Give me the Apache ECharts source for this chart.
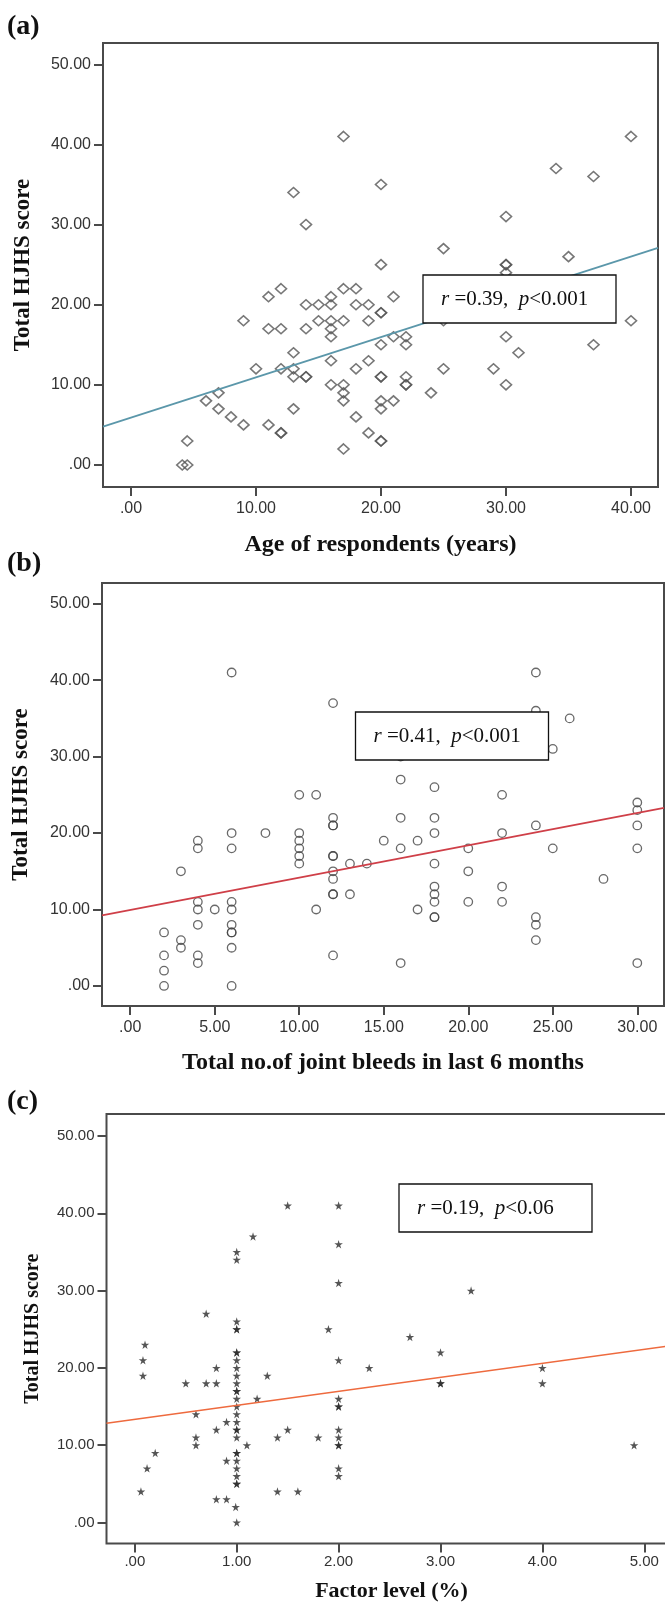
<!DOCTYPE html>
<html>
<head>
<meta charset="utf-8">
<script src="https://cdn.jsdelivr.net/npm/echarts@6/dist/echarts.min.js"></script>
<style>
  html, body { margin: 0; padding: 0; background: #fff; }
  #chart { width: 665px; height: 1602px; }
</style>
</head>
<body>
<div id="chart"></div>
<script>
// (a) age vs HJHS
const ageA = [4.1, 4.5, 4.5, 6, 7, 7, 8, 9, 9, 10, 11, 11, 11, 12, 12, 12, 12, 12, 13, 13, 13, 13, 13,
  14, 14, 14, 14, 14, 15, 15, 16, 16, 16, 16, 16, 16, 16, 17, 17, 17, 17, 17, 17, 17, 18, 18, 18, 18,
  19, 19, 19, 19, 20, 20, 20, 20, 20, 20, 20, 20, 20, 20, 20, 21, 21, 21, 22, 22, 22, 22, 22, 24, 25,
  25, 25, 29, 30, 30, 30, 30, 30, 30, 31, 34, 35, 37, 37, 40, 40];
const hjhsA = [0, 0, 3, 8, 9, 7, 6, 18, 5, 12, 21, 17, 5, 22, 17, 12, 4, 4, 34, 14, 12, 11, 7,
  30, 20, 17, 11, 11, 20, 18, 21, 20, 18, 17, 16, 13, 10, 41, 22, 18, 10, 9, 8, 2, 22, 20, 12, 6,
  20, 18, 13, 4, 35, 25, 19, 19, 15, 11, 11, 8, 7, 3, 3, 21, 16, 8, 16, 15, 11, 10, 10, 9, 27,
  18, 12, 12, 31, 25, 25, 24, 16, 10, 14, 37, 26, 36, 15, 41, 18];
const fitA = [[-2.24, 4.78], [42.16, 27.1]];

// (b) joint bleeds vs HJHS
const bleedsB = [2, 2, 2, 2, 3, 3, 3, 4, 4, 4, 4, 4, 4, 4, 5, 6, 6, 6, 6, 6, 6, 6, 6, 6, 6, 8,
  10, 10, 10, 10, 10, 10, 11, 11, 12, 12, 12, 12, 12, 12, 12, 12, 12, 12, 12, 13, 13, 14, 15,
  16, 16, 16, 16, 16, 17, 17, 18, 18, 18, 18, 18, 18, 18, 18, 18, 20, 20, 20, 22, 22, 22, 22,
  24, 24, 24, 24, 24, 24, 25, 25, 26, 28, 30, 30, 30, 30, 30];
const hjhsB = [7, 4, 2, 0, 15, 6, 5, 19, 18, 11, 10, 8, 4, 3, 10, 41, 20, 18, 11, 10, 8, 7, 7, 5, 0, 20,
  25, 20, 19, 18, 17, 16, 25, 10, 37, 22, 21, 21, 17, 17, 15, 14, 12, 12, 4, 16, 12, 16, 19,
  30, 27, 22, 18, 3, 19, 10, 26, 22, 20, 16, 13, 12, 11, 9, 9, 18, 15, 11, 25, 20, 13, 11,
  41, 36, 21, 9, 8, 6, 31, 18, 35, 14, 24, 23, 21, 18, 3];
const fitB = [[-1.67, 9.23], [31.58, 23.3]];

// (c) factor level vs HJHS
const factorC = [0.06, 0.08, 0.08, 0.1, 0.12, 0.2, 0.5, 0.6, 0.6, 0.6, 0.7, 0.7, 0.8, 0.8, 0.8, 0.8,
  0.9, 0.9, 0.9,
  1, 1, 1, 1, 1, 1, 1, 1, 1, 1, 1, 1, 1, 1, 1, 1, 1, 1, 1, 1, 1, 1, 1, 1, 1, 1, 1, 1, 0.99,
  1.1, 1.16, 1.2, 1.3, 1.4, 1.4, 1.5, 1.5, 1.6, 1.8, 1.9,
  2, 2, 2, 2, 2, 2, 2, 2, 2, 2, 2, 2, 2,
  2.3, 2.7, 3, 3, 3, 3.3, 4, 4, 4.9];
const hjhsC = [4, 19, 21, 23, 7, 9, 18, 14, 11, 10, 27, 18, 20, 18, 12, 3,
  13, 8, 3,
  35, 34, 26, 25, 25, 22, 22, 21, 20, 19, 18, 17, 17, 16, 15, 14, 13, 12, 12, 11, 9, 9, 8, 7, 6, 5, 5, 0, 2,
  10, 37, 16, 19, 11, 4, 41, 12, 4, 11, 25,
  41, 36, 31, 21, 16, 15, 15, 12, 11, 10, 10, 7, 6,
  20, 24, 22, 18, 18, 30, 20, 18, 10];
const fitC = [[-0.278, 12.83], [5.3, 22.95]];

const ticksXA = [0, 10, 20, 30, 40];
const ticksXB = [0, 5, 10, 15, 20, 25, 30];
const ticksXC = [0, 1, 2, 3, 4, 5];
const ticksY = [0, 10, 20, 30, 40, 50];

const statA = ["r", " =0.39,  ", "p", "<0.001"];
const statB = ["r", " =0.41,  ", "p", "<0.001"];
const statC = ["r", " =0.19,  ", "p", "<0.06"];

const SERIF = '"Liberation Serif", "Times New Roman", serif';
const SANS = '"Liberation Sans", Arial, sans-serif';
const FRAME = "#4a4a4a";

function pairs(xs, ys) {
  return xs.map((x, i) => [x, ys[i]]);
}
function tickText(v) {
  return v === 0 ? ".00" : v.toFixed(2);
}

function xAxisOf(idx, min, max, ticks, name, opt) {
  return {
    type: "value", gridIndex: idx, min: min, max: max,
    name: name, nameLocation: "middle", nameGap: opt.nameGap,
    nameTextStyle: { fontFamily: SERIF, fontWeight: "bold", fontSize: opt.nameSize, color: "#111" },
    axisLine: { show: false, onZero: false },
    axisTick: { show: true, length: 9, customValues: ticks, lineStyle: { color: FRAME, width: 2 } },
    axisLabel: { customValues: ticks, formatter: tickText, margin: opt.margin, fontFamily: SANS, fontSize: opt.labelSize, color: "#333" },
    splitLine: { show: false },
  };
}
function yAxisOf(idx, min, max, opt) {
  return {
    type: "value", gridIndex: idx, min: min, max: max,
    name: "Total HJHS score", nameLocation: "middle", nameGap: opt.nameGap,
    nameTextStyle: { fontFamily: SERIF, fontWeight: "bold", fontSize: opt.nameSize, color: "#111" },
    axisLine: { show: false, onZero: false },
    axisTick: { show: true, length: 9, customValues: ticksY, lineStyle: { color: FRAME, width: 2 } },
    axisLabel: { customValues: ticksY, formatter: tickText, margin: 12, fontFamily: SANS, fontSize: opt.labelSize, color: "#333" },
    splitLine: { show: false },
  };
}

function statBox(x, y, w, h, parts) {
  return [
    { type: "rect", x: x, y: y, shape: { width: w, height: h }, z: 100,
      style: { fill: "#fff", stroke: "#111", lineWidth: 1.3 } },
    { type: "text", x: x + 18, y: y + h / 2, z: 101,
      style: {
        text: "{i|" + parts[0] + "}{n|" + parts[1] + "}{i|" + parts[2] + "}{n|" + parts[3] + "}",
        verticalAlign: "middle", align: "left",
        rich: {
          i: { fontFamily: SERIF, fontSize: 21, fontStyle: "italic", fill: "#111" },
          n: { fontFamily: SERIF, fontSize: 21, fill: "#111" },
        },
      } },
  ];
}
function panelLabel(text, y) {
  return { type: "text", x: 7, y: y, z: 101,
    style: { text: text, fontFamily: SERIF, fontWeight: "bold", fontSize: 28, fill: "#111", verticalAlign: "middle" } };
}

const starPath = "path://M50,0 L61,35 L98,35 L68,57 L79,91 L50,70 L21,91 L32,57 L2,35 L39,35 Z";

const chart = echarts.init(document.getElementById("chart"));
chart.setOption({
  animation: false,
  backgroundColor: "#fff",
  grid: [
    { left: 103, top: 43, width: 555, height: 444, show: true, borderColor: FRAME, borderWidth: 2, outerBoundsMode: "none" },
    { left: 102, top: 583, width: 562, height: 423, show: true, borderColor: FRAME, borderWidth: 2, outerBoundsMode: "none" },
    { left: 106.5, top: 1114, width: 570, height: 429.5, show: true, borderColor: FRAME, borderWidth: 2, outerBoundsMode: "none" },
  ],
  xAxis: [
    xAxisOf(0, -2.24, 42.16, ticksXA, "Age of respondents (years)", { nameGap: 46, nameSize: 24, margin: 14, labelSize: 16 }),
    xAxisOf(1, -1.67, 31.58, ticksXB, "Total no.of joint bleeds in last 6 months", { nameGap: 45, nameSize: 24, margin: 14, labelSize: 16 }),
    xAxisOf(2, -0.278, 5.316, ticksXC, "Factor level (%)", { nameGap: 37, nameSize: 22, margin: 11, labelSize: 15 }),
  ],
  yAxis: [
    yAxisOf(0, -2.75, 52.66, { nameGap: 68, nameSize: 23, labelSize: 16 }),
    yAxisOf(1, -2.62, 52.71, { nameGap: 69, nameSize: 23, labelSize: 16 }),
    yAxisOf(2, -2.72, 52.85, { nameGap: 64, nameSize: 20, labelSize: 15 }),
  ],
  series: [
    { type: "scatter", xAxisIndex: 0, yAxisIndex: 0, data: pairs(ageA, hjhsA),
      symbol: "diamond", symbolSize: [11, 10],
      itemStyle: { color: "rgba(0,0,0,0)", borderColor: "#555", borderWidth: 1.6 } },
    { type: "line", xAxisIndex: 0, yAxisIndex: 0, data: fitA, symbol: "none",
      lineStyle: { color: "#5b97aa", width: 1.8 } },
    { type: "scatter", xAxisIndex: 1, yAxisIndex: 1, data: pairs(bleedsB, hjhsB),
      symbol: "circle", symbolSize: 8.5,
      itemStyle: { color: "rgba(0,0,0,0)", borderColor: "#444", borderWidth: 1.3 } },
    { type: "line", xAxisIndex: 1, yAxisIndex: 1, data: fitB, symbol: "none",
      lineStyle: { color: "#cf3f48", width: 1.6 } },
    { type: "scatter", xAxisIndex: 2, yAxisIndex: 2, data: pairs(factorC, hjhsC),
      symbol: starPath, symbolSize: 8.5,
      itemStyle: { color: "#2a2a2a" } },
    { type: "line", xAxisIndex: 2, yAxisIndex: 2, data: fitC, symbol: "none",
      lineStyle: { color: "#ee6a3e", width: 1.6 } },
  ],
  graphic: [
    panelLabel("(a)", 27),
    panelLabel("(b)", 564),
    panelLabel("(c)", 1102),
    ...statBox(423, 275, 193, 48, statA),
    ...statBox(355.5, 712, 193, 48, statB),
    ...statBox(399, 1184, 193, 48, statC),
  ],
});
</script>
</body>
</html>
